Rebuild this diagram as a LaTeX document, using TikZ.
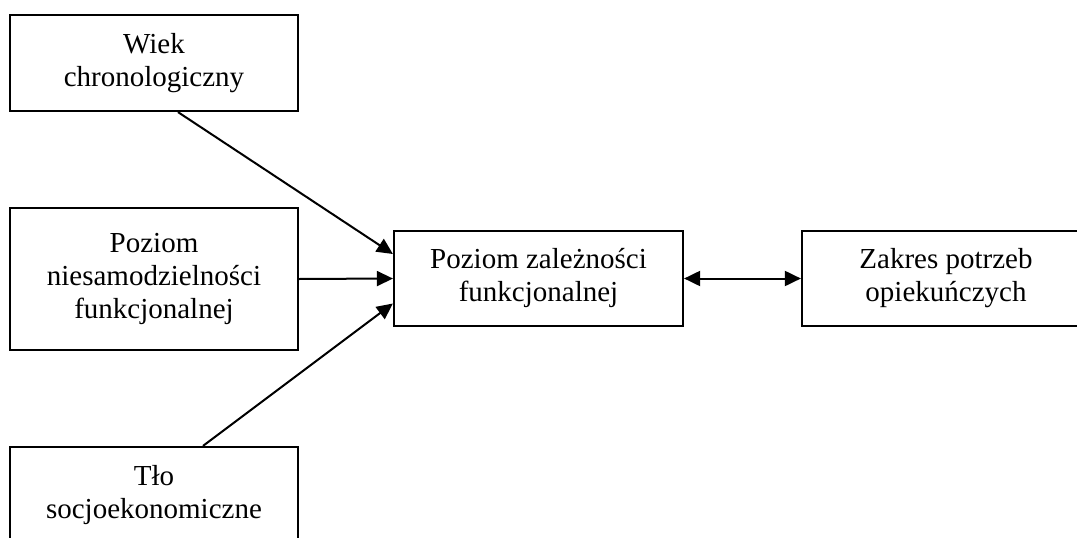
\documentclass[tikz,border=0pt]{standalone}
\usepackage{fontspec}
\setmainfont{Liberation Serif}
\usetikzlibrary{arrows.meta}
\begin{document}
\begin{tikzpicture}[x=1pt,y=1pt,
  box/.style={draw=black, line width=2.2pt, inner sep=0pt, align=center,
    font=\fontsize{29}{33}\selectfont},
  tip/.style={Triangle[length=16pt,width=15pt]},
  link/.style={line width=2pt, -{Triangle[length=16pt,width=15pt]}},
  dlink/.style={line width=2pt, {Triangle[length=16pt,width=15pt]}-{Triangle[length=16pt,width=15pt]}}]
  \useasboundingbox (0,0) rectangle (1077,-538);
  \clip (0,0) rectangle (1077,-538);
  % factor boxes on the left
  \node[box, minimum width=288pt, minimum height=96pt] (age) at (154,-63) {Wiek\\chronologiczny};
  \node[box, minimum width=288pt, minimum height=142pt] (func) at (154,-279) {Poziom\\niesamodzielności\\funkcjonalnej};
  \node[box, minimum width=288pt, minimum height=97pt] (soc) at (154,-495.5) {Tło\\socjoekonomiczne};
  % central and outcome boxes
  \node[box, minimum width=289pt, minimum height=95pt] (dep) at (538.5,-278.5) {Poziom zależności\\funkcjonalnej};
  \node[box, minimum width=288pt, minimum height=95pt] (care) at (946,-278.5) {Zakres potrzeb\\opiekuńczych};
  % connectors
  \draw[link] ([xshift=24pt]age.south) -- ([yshift=24.5pt]dep.west);
  \draw[link] (func.east) -- (dep.west);
  \draw[link] ([xshift=49pt]soc.north) -- ([yshift=-25pt]dep.west);
  \draw[dlink] (dep.east) -- (care.west);
\end{tikzpicture}
\end{document}
